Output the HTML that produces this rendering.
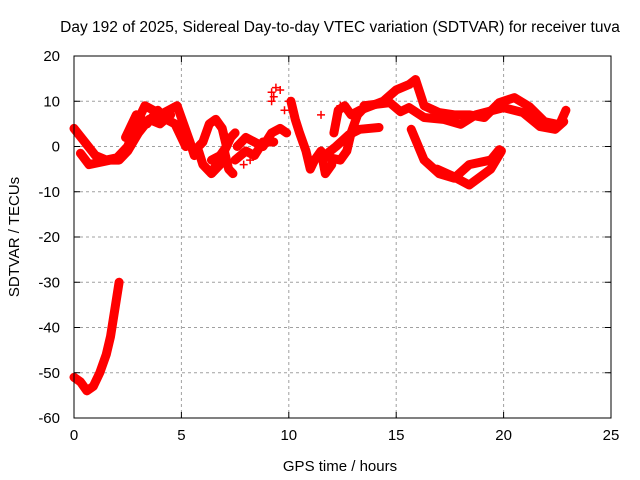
<!DOCTYPE html>
<html><head><meta charset="utf-8"><style>
body{margin:0;background:#fff}
svg{display:block;font-family:"Liberation Sans",sans-serif}
</style></head><body>
<svg id="chart" width="640" height="480">
<text x="340" y="32" text-anchor="middle" font-size="15.5">Day 192 of 2025, Sidereal Day-to-day VTEC variation (SDTVAR) for receiver tuva</text>
<text x="340" y="471" text-anchor="middle" font-size="15">GPS time / hours</text>
<text transform="translate(19,237) rotate(-90)" text-anchor="middle" font-size="15">SDTVAR / TECUs</text>
<g id="grid"></g><g id="marks"></g><g id="axes"></g>
</svg>
<script>
const xTicks=[0,5,10,15,20,25];
const yTicks=[20,10,0,-10,-20,-30,-40,-50,-60];
const trackA=[[0,4],[0.5,1],[1,-2],[1.5,-3],[2,-2.5],[2.5,0],[2.8,4],[3.3,9],[3.7,8],[4,7],[4.4,8],[4.8,9],[5.1,5],[5.4,1],[5.6,-2]];
const trackA2=[[0.3,-1.5],[0.7,-4],[1.2,-3.5],[1.7,-3],[2.1,-3],[2.5,-1],[3,3],[3.5,6],[4,5],[4.5,7]];
const trackA3=[[2.4,2],[2.9,7],[3.4,5],[3.9,8],[4.3,6],[4.7,5],[5,2],[5.2,0]];
const trackB1=[[5.8,-1],[6,-4],[6.4,-6],[6.8,-4],[7,-1],[7.2,-5],[7.4,-6]];
const trackB2=[[5.8,0],[6,1],[6.3,5],[6.6,6],[6.9,4],[7.1,0],[6.8,-2],[6.4,-3]];
const trackB3=[[6.5,-5],[6.9,-2],[7.3,2],[7.5,3]];
const trackC1=[[7.6,0],[8,2],[8.4,1],[8.8,0],[9.2,3],[9.6,4],[9.9,3]];
const trackC2=[[7.5,-3],[8,-1],[8.4,-2],[8.8,1],[9.3,1]];
const trackD=[[10.1,10],[10.3,6],[10.5,3],[10.8,-1],[11,-5],[11.2,-3],[11.5,-1],[11.7,-6],[12,-4]];
const trackE1=[[12.1,3],[12.3,8],[12.6,9],[12.9,7],[13.3,8],[14.4,10],[15,12.5],[15.6,13.7],[15.9,14.8],[16.3,9],[17,7.5],[17.7,7],[18.4,7],[19.1,6.4],[19.8,9.7],[20.5,10.8],[21.2,8.8],[21.9,5.5],[22.6,4.8],[22.9,8]];
const trackE2=[[13.5,9],[14.7,9.7],[15.2,7.7],[15.6,8.6],[16.3,6.4],[17.2,6],[18,4.9],[18.7,7],[20,8.6],[20.9,7.5],[21.7,4.4],[22.4,3.8],[22.8,5.5]];
const trackE3=[[11.8,-1.5],[12.2,0],[12.8,2.6],[13.3,3.8],[14.2,4.2]];
const trackE4=[[11.9,-2.5],[12.4,-3],[12.7,-1],[12.9,3],[13.2,7],[13.6,9]];
const trackF1=[[15.7,3.8],[16.3,-3],[17,-6],[17.7,-7],[18.4,-4],[19.4,-3],[19.8,-0.7]];
const trackF2=[[16.9,-5],[17.6,-6.5],[18.4,-8.5],[19.4,-5],[19.9,-1]];
const trackG=[[0,-51],[0.3,-52],[0.6,-54],[0.9,-53],[1.2,-50],[1.5,-46],[1.7,-42],[1.9,-36],[2.1,-30]];
const plusPts=[[9.2,12],[9.3,11],[9.4,13],[9.6,12.5],[9.2,10],[10,10],[9.8,8],[11.5,7],[12.4,9],[8.2,-3],[7.9,-4]];
const tracks=[trackA,trackA2,trackA3,trackB1,trackB2,trackB3,trackC1,trackC2,trackD,trackE1,trackE2,trackE3,trackE4,trackF1,trackF2,trackG];
const X0=74,X1=611,Y0=418,Y1=56;
const sx=h=>X0+(h-0)/25*(X1-X0);
const sy=v=>Y0-(v+60)/80*(Y0-Y1);
const NS="http://www.w3.org/2000/svg";
function mk(tag,attrs,parent){const e=document.createElementNS(NS,tag);for(const k in attrs)e.setAttribute(k,attrs[k]);parent.appendChild(e);return e;}
const grid=document.getElementById('grid'),axes=document.getElementById('axes'),marks=document.getElementById('marks');
xTicks.forEach(t=>{
 if(t>0&&t<25){const l=mk('line',{x1:sx(t),x2:sx(t),y1:Y1,y2:Y0,stroke:'#a0a0a0','stroke-dasharray':'3,3'},grid);
 
 }
 const tx=mk('text',{x:sx(t),y:Y0+22,'text-anchor':'middle','font-size':'15'},axes);tx.textContent=t;
 
 
 mk('line',{x1:sx(t),x2:sx(t),y1:Y0,y2:Y0-6,stroke:'#000'},axes);
 mk('line',{x1:sx(t),x2:sx(t),y1:Y1,y2:Y1+6,stroke:'#000'},axes);
});
yTicks.forEach(t=>{
 if(t>-60&&t<20){const l=mk('line',{x1:X0,x2:X1,y1:sy(t),y2:sy(t),stroke:'#a0a0a0','stroke-dasharray':'3,3'},grid);
 
 }
 const tx=mk('text',{x:X0-14,y:sy(t)+5,'text-anchor':'end','font-size':'15'},axes);tx.textContent=t;
 
 
 mk('line',{x1:X0,x2:X0+6,y1:sy(t),y2:sy(t),stroke:'#000'},axes);
 mk('line',{x1:X1,x2:X1-6,y1:sy(t),y2:sy(t),stroke:'#000'},axes);
});
const frame=mk('rect',{x:X0,y:Y1,width:X1-X0,height:Y0-Y1,fill:'none',stroke:'#000'},axes);


tracks.forEach(tr=>{
 const p=mk('polyline',{points:tr.map(d=>sx(d[0])+','+sy(d[1])).join(' '),fill:'none',stroke:'#f00','stroke-width':'9','stroke-linejoin':'round','stroke-linecap':'round'},marks);
 
 
});
plusPts.forEach(d=>{
 const x=sx(d[0]),y=sy(d[1]);
 const p=mk('path',{d:`M${x-4},${y}H${x+4}M${x},${y-4}V${y+4}`,stroke:'#f00','stroke-width':'1.5'},marks);
 
 
});
</script>
</body></html>
